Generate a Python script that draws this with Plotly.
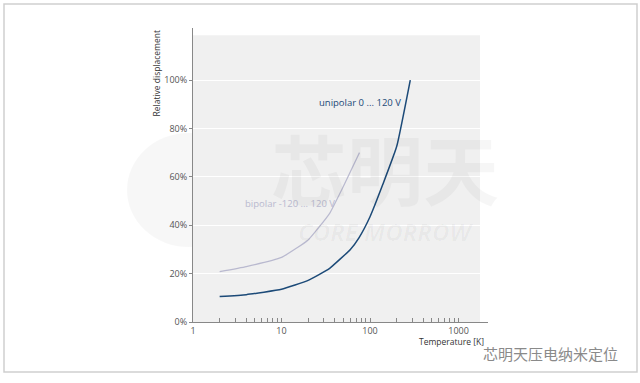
import plotly.graph_objects as go

# Data
uni_T = [2, 4, 10, 20, 35, 60, 75, 100, 140, 200, 285]
uni_v = [10.5, 11.3, 13.5, 17.2, 22.2, 30.0, 34.8, 43.5, 57.0, 72.5, 100.0]
bi_T = [2, 4, 10, 20, 35, 52, 76]
bi_v = [20.8, 22.9, 26.7, 33.9, 44.9, 57.3, 70.0]

x_major = [1, 10, 100, 1000]
x_minor = [m * d for d in (1, 10, 100) for m in range(2, 10)]
y_ticks = [0, 20, 40, 60, 80, 100]
y_labels = ["0%", "20%", "40%", "60%", "80%", "100%"]

# plot-area geometry (px) for paper conversions
L, R, T, B = 193, 488, 28, 322
W, H = R - L, B - T


def px(x):
    return (x - L) / W


def py(y):
    return (B - y) / H


fig = go.Figure()
fig.add_trace(go.Scatter(x=bi_T, y=bi_v, mode="lines",
                         line=dict(color="#b9b9cf", width=1.2, shape="spline", smoothing=0.4),
                         hoverinfo="skip", showlegend=False))
fig.add_trace(go.Scatter(x=uni_T, y=uni_v, mode="lines",
                         line=dict(color="#1c4a78", width=1.5, shape="spline", smoothing=0.4),
                         hoverinfo="skip", showlegend=False))

tickvals = x_major + x_minor
ticktext = [str(v) for v in x_major] + [""] * len(x_minor)

font = "Open Sans, Noto Sans, sans-serif"
shapes = [
    # gray plot background
    dict(type="rect", xref="x", yref="y", x0=1, x1=10 ** 3.243, y0=0, y1=118.5,
         fillcolor="#f0f0f0", line=dict(width=0), layer="below"),
    # frame around the image
    dict(type="rect", xref="paper", yref="paper", x0=px(4), x1=px(637), y0=py(372), y1=py(4),
         line=dict(color="#cfcfcf", width=1.5), fillcolor="rgba(0,0,0,0)", layer="below"),
    # faint watermark circle
    dict(type="circle", xref="paper", yref="paper", x0=px(127), x1=px(250), y0=py(247), y1=py(133),
         fillcolor="rgba(0,0,0,0.03)", line=dict(width=0), layer="below"),
]

annotations = [
    dict(x=px(403), y=py(103), xref="paper", yref="paper", text="unipolar 0 ... 120 V",
         xanchor="right", yanchor="middle", showarrow=False,
         font=dict(family=font, size=9.5, color="#1c4a78")),
    dict(x=px(337), y=py(203), xref="paper", yref="paper", text="bipolar -120 ... 120 V",
         xanchor="right", yanchor="middle", showarrow=False,
         font=dict(family=font, size=9.5, color="#b9b9cf")),
    dict(x=px(156), y=py(28), xref="paper", yref="paper", text="Relative displacement",
         textangle=-90, xanchor="center", yanchor="top", showarrow=False,
         font=dict(family=font, size=8.5, color="#333333")),
    dict(x=px(417), y=py(341), xref="paper", yref="paper", text="Temperature [K]",
         xanchor="left", yanchor="middle", showarrow=False,
         font=dict(family=font, size=8.5, color="#333333")),
    dict(x=px(620), y=py(354), xref="paper", yref="paper", text="芯明天压电纳米定位",
         xanchor="right", yanchor="middle", showarrow=False,
         font=dict(family="Noto Sans CJK SC", size=15, color="#8a8a8a")),
    # central faint watermark
    dict(x=px(385), y=py(167), xref="paper", yref="paper", text="<b>芯明天</b>",
         xanchor="center", yanchor="middle", showarrow=False,
         font=dict(family="Noto Sans CJK SC", size=76, color="rgba(0,0,0,0.035)")),
    dict(x=px(385), y=py(231), xref="paper", yref="paper", text="<b><i>CORE MORROW</i></b>",
         xanchor="center", yanchor="middle", showarrow=False,
         font=dict(family="Open Sans", size=24, color="rgba(0,0,0,0.03)")),
]

fig.update_layout(
    width=640, height=383,
    margin=dict(l=L, r=640 - R, t=T, b=383 - B, autoexpand=False),
    paper_bgcolor="white", plot_bgcolor="white",
    font=dict(family=font, size=9, color="#555555"),
    shapes=shapes, annotations=annotations,
    xaxis=dict(type="log", range=[0, 3.333], tickvals=tickvals, ticktext=ticktext,
               ticks="inside", ticklen=4, tickcolor="#888888", tickwidth=1,
               showline=True, linecolor="#888888", linewidth=1,
               showgrid=False, zeroline=False,
               tickfont=dict(family=font, size=9, color="#555555")),
    yaxis=dict(range=[0, 121.5], tickvals=y_ticks, ticktext=y_labels,
               ticks="outside", ticklen=3, tickcolor="#888888",
               showline=True, linecolor="#888888", linewidth=1,
               showgrid=True, gridcolor="white", gridwidth=1.2, zeroline=False,
               layer="above traces",
               tickfont=dict(family=font, size=9, color="#555555")),
)

fig.write_html("out.html", config={"displayModeBar": False},
               post_script="document.body.style.margin='0px';document.body.style.overflow='hidden';")
